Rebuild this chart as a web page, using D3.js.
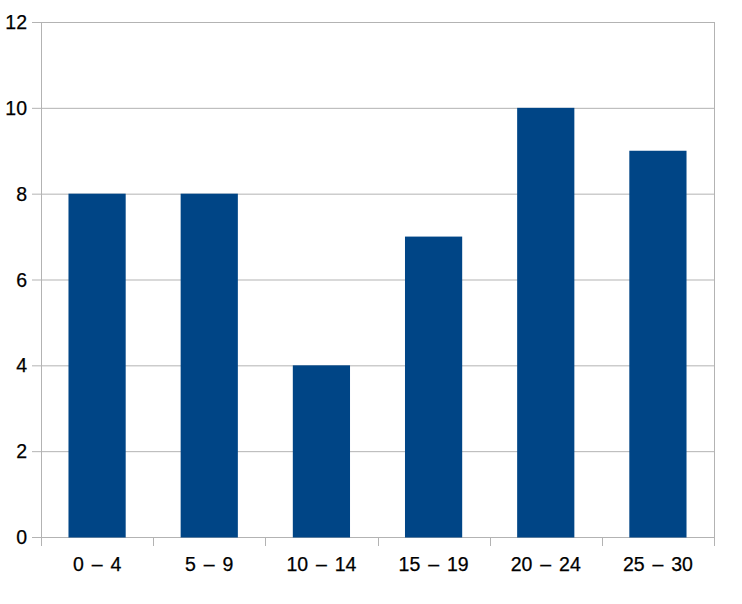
<!DOCTYPE html>
<html><head><meta charset="utf-8">
<script src="https://cdn.jsdelivr.net/npm/d3@7"></script>
<style>body{margin:0;background:#fff}svg{display:block}</style>
</head><body>
<script>
const categories = ["0 – 4","5 – 9","10 – 14","15 – 19","20 – 24","25 – 30"];
const values = [8,8,4,7,10,9];
const yTicks = [0,2,4,6,8,10,12];

(function(){
const W=742,H=604;
const mLeft=41,mRight=714,mTop=22,mBottom=537;
const svg=d3.select("body").append("svg").attr("width",W).attr("height",H);
const x=d3.scaleBand().domain(categories).range([mLeft,mRight]).paddingInner(0.49).paddingOuter(0.245);
const xb=d3.scaleBand().domain(categories).range([mLeft,mRight]);
const y=d3.scaleLinear().domain([0,12]).range([mBottom,mTop]);
const grid="#b3b3b3";

svg.append("g").selectAll("line").data(yTicks).join("line")
  .attr("x1",mLeft-9).attr("x2",mRight).attr("y1",d=>y(d)+0.5).attr("y2",d=>y(d)+0.5)
  .attr("stroke",grid).attr("stroke-width",1);
svg.append("line").attr("x1",mRight+0.5).attr("x2",mRight+0.5).attr("y1",mTop).attr("y2",mBottom)
  .attr("stroke",grid);
svg.append("line").attr("x1",mLeft+0.5).attr("x2",mLeft+0.5).attr("y1",mTop).attr("y2",mBottom+9)
  .attr("stroke",grid);
const bounds=categories.map(c=>xb(c)).concat([mRight]);
svg.append("g").selectAll("line").data(bounds).join("line")
  .attr("x1",d=>Math.round(d)+0.5).attr("x2",d=>Math.round(d)+0.5).attr("y1",mBottom).attr("y2",mBottom+9)
  .attr("stroke",grid);

svg.append("g").selectAll("rect").data(values).join("rect")
  .attr("x",(d,i)=>x(categories[i])).attr("width",x.bandwidth())
  .attr("y",d=>y(d)).attr("height",d=>y(0)-y(d)+0.5)
  .attr("fill","#004586");

svg.append("g").selectAll("text").data(yTicks).join("text")
  .attr("x",27).attr("y",d=>y(d)).attr("dy","0.36em").attr("text-anchor","end")
  .attr("font-family","Liberation Sans, Arial, sans-serif").attr("font-size",19.5).attr("fill","#000")
  .attr("stroke","#000").attr("stroke-width",0.25)
  .text(d=>d);
svg.append("g").selectAll("text").data(categories).join("text")
  .attr("x",d=>xb(d)+xb.bandwidth()/2).attr("y",571).attr("text-anchor","middle")
  .attr("font-family","Liberation Sans, Arial, sans-serif").attr("font-size",19.5).attr("fill","#000")
  .attr("stroke","#000").attr("stroke-width",0.25)
  .attr("word-spacing","2.5px")
  .text(d=>d);
})();
</script>
</body></html>
